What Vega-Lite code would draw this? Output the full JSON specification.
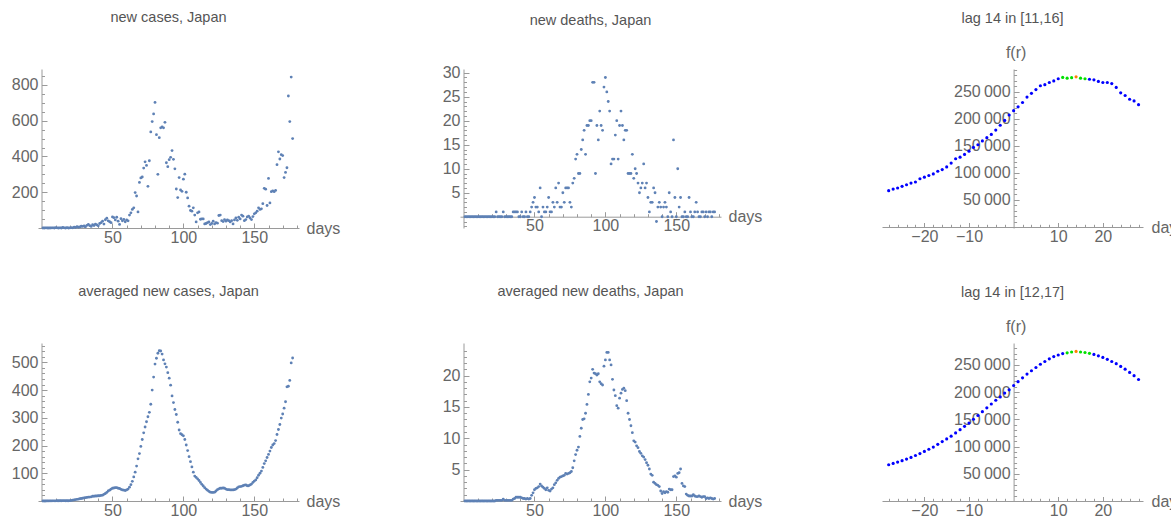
{
"$schema": "https://vega.github.io/schema/vega-lite/v6.json",
"background": "white",
"padding": {"left": 11, "top": 9, "right": 0, "bottom": 0},
"config": {
  "view": {"stroke": null},
  "font": "Liberation Sans",
  "axis": {"grid": false, "domainColor": "#9a9a9a", "tickColor": "#9a9a9a", "labelColor": "#666666", "labelFontSize": 16, "labelFont": "Liberation Sans", "titleFont": "Liberation Sans", "titleFontSize": 16, "titleFontWeight": "normal", "titleColor": "#666666", "labelFlush": false, "labelOverlap": false, "domainWidth": 1, "tickWidth": 1},
  "title": {"fontSize": 14.5, "fontWeight": "normal", "color": "#555555", "font": "Liberation Sans", "anchor": "middle", "baseline": "alphabetic", "offset": 44}
},
"datasets": {
"cases": [
{"day":1,"value":0},{"day":2,"value":0},{"day":3,"value":1},{"day":4,"value":0},{"day":5,"value":0},{"day":6,"value":0},{"day":7,"value":1},{"day":8,"value":1},{"day":9,"value":0},{"day":10,"value":2},{"day":11,"value":1},{"day":12,"value":0},{"day":13,"value":1},{"day":14,"value":0},{"day":15,"value":3},{"day":16,"value":1},{"day":17,"value":0},{"day":18,"value":2},{"day":19,"value":0},{"day":20,"value":1},{"day":21,"value":2},{"day":22,"value":1},
{"day":23,"value":5},{"day":24,"value":3},{"day":25,"value":8},{"day":26,"value":4},{"day":27,"value":6},{"day":28,"value":10},{"day":29,"value":9},{"day":30,"value":12},{"day":31,"value":7},{"day":32,"value":15},{"day":33,"value":20},{"day":34,"value":13},{"day":35,"value":9},{"day":36,"value":18},{"day":37,"value":14},{"day":38,"value":22},{"day":39,"value":17},{"day":40,"value":12},
{"day":41,"value":25},{"day":42,"value":30},{"day":43,"value":38},{"day":44,"value":22},{"day":45,"value":46},{"day":46,"value":55},{"day":47,"value":40},{"day":48,"value":35},{"day":49,"value":30},{"day":50,"value":62},{"day":51,"value":58},{"day":52,"value":45},{"day":53,"value":60},{"day":54,"value":38},{"day":55,"value":20},{"day":56,"value":52},{"day":57,"value":40},{"day":58,"value":48},{"day":59,"value":35},{"day":60,"value":45},{"day":61,"value":40},
{"day":62,"value":72},{"day":63,"value":85},{"day":64,"value":104},{"day":65,"value":113},{"day":66,"value":198},{"day":67,"value":179},{"day":68,"value":90},
{"day":69,"value":255},{"day":70,"value":280},{"day":71,"value":285},{"day":72,"value":335},{"day":73,"value":370},{"day":74,"value":350},{"day":75,"value":233},{"day":76,"value":376},{"day":77,"value":537},{"day":78,"value":595},{"day":79,"value":638},{"day":80,"value":702},{"day":81,"value":522},{"day":82,"value":300},{"day":83,"value":505},{"day":84,"value":560},{"day":85,"value":565},{"day":86,"value":560},{"day":87,"value":591},{"day":88,"value":365},{"day":89,"value":343},{"day":90,"value":382},{"day":91,"value":395},{"day":92,"value":433},{"day":93,"value":384},{"day":94,"value":331},{"day":95,"value":218},{"day":96,"value":170},{"day":97,"value":282},{"day":98,"value":213},{"day":99,"value":205},{"day":100,"value":273},{"day":101,"value":301},{"day":102,"value":200},{"day":103,"value":168},{"day":104,"value":122},
{"day":105,"value":98},{"day":106,"value":94},{"day":107,"value":113},{"day":108,"value":72},{"day":109,"value":34},{"day":110,"value":85},{"day":111,"value":90},{"day":112,"value":49},{"day":113,"value":51},{"day":114,"value":51},{"day":115,"value":23},{"day":116,"value":25},{"day":117,"value":30},{"day":118,"value":34},{"day":119,"value":19},{"day":120,"value":25},{"day":121,"value":38},{"day":122,"value":23},{"day":123,"value":30},{"day":124,"value":27},{"day":125,"value":70},{"day":126,"value":72},{"day":127,"value":41},{"day":128,"value":36},{"day":129,"value":47},{"day":130,"value":38},{"day":131,"value":45},{"day":132,"value":41},{"day":133,"value":34},{"day":134,"value":41},{"day":135,"value":23},{"day":136,"value":45},{"day":137,"value":56},{"day":138,"value":43},{"day":139,"value":60},{"day":140,"value":51},{"day":141,"value":72},{"day":142,"value":66},{"day":143,"value":41},{"day":144,"value":47},{"day":145,"value":62},{"day":146,"value":66},{"day":147,"value":56},{"day":148,"value":47},{"day":149,"value":64},{"day":150,"value":79},{"day":151,"value":85},{"day":152,"value":94},{"day":153,"value":113},{"day":154,"value":104},{"day":155,"value":107},{"day":156,"value":136},
{"day":157,"value":222},{"day":158,"value":217},{"day":159,"value":126},{"day":160,"value":277},{"day":161,"value":140},{"day":162,"value":203},{"day":163,"value":208},{"day":164,"value":203},{"day":165,"value":210},{"day":166,"value":354},{"day":167,"value":426},{"day":168,"value":386},{"day":169,"value":410},{"day":170,"value":405},{"day":171,"value":282},{"day":172,"value":311},{"day":173,"value":337},{"day":174,"value":738},{"day":175,"value":595},{"day":176,"value":844},{"day":177,"value":500}
],
"deaths": [
{"day":1,"value":0},{"day":2,"value":0},{"day":3,"value":0},{"day":4,"value":0},{"day":5,"value":0},{"day":6,"value":0},{"day":7,"value":0},{"day":8,"value":0},{"day":9,"value":0},{"day":10,"value":0},{"day":11,"value":0},{"day":12,"value":0},{"day":13,"value":0},{"day":14,"value":0},{"day":15,"value":0},{"day":16,"value":0},{"day":17,"value":0},{"day":18,"value":0},{"day":19,"value":0},{"day":20,"value":0},{"day":21,"value":0},
{"day":22,"value":0},{"day":23,"value":1},{"day":24,"value":0},{"day":25,"value":0},{"day":26,"value":0},{"day":27,"value":0},{"day":28,"value":1},{"day":29,"value":0},{"day":30,"value":0},{"day":31,"value":0},{"day":32,"value":0},{"day":33,"value":0},{"day":34,"value":0},{"day":35,"value":1},{"day":36,"value":1},{"day":37,"value":1},{"day":38,"value":1},{"day":39,"value":0},{"day":40,"value":0},{"day":41,"value":1},{"day":42,"value":0},{"day":43,"value":0},{"day":44,"value":1},{"day":45,"value":0},{"day":46,"value":0},{"day":47,"value":1},
{"day":48,"value":2},{"day":49,"value":3},{"day":50,"value":4},{"day":51,"value":2},{"day":52,"value":2},{"day":53,"value":1},{"day":54,"value":6},{"day":55,"value":0},{"day":56,"value":2},{"day":57,"value":1},{"day":58,"value":1},{"day":59,"value":2},{"day":60,"value":4},{"day":61,"value":1},{"day":62,"value":1},{"day":63,"value":3},{"day":64,"value":2},{"day":65,"value":6},{"day":66,"value":3},{"day":67,"value":7},{"day":68,"value":2},{"day":69,"value":2},{"day":70,"value":5},{"day":71,"value":3},{"day":72,"value":6},{"day":73,"value":6},{"day":74,"value":6},{"day":75,"value":3},{"day":76,"value":2},{"day":77,"value":7},{"day":78,"value":8},{"day":79,"value":12},{"day":80,"value":13},{"day":81,"value":9},{"day":82,"value":9},{"day":83,"value":14},{"day":84,"value":16},{"day":85,"value":18},{"day":86,"value":13},{"day":87,"value":19},{"day":88,"value":19},{"day":89,"value":20},{"day":90,"value":20},{"day":91,"value":28},{"day":92,"value":28},{"day":93,"value":9},{"day":94,"value":19},{"day":95,"value":16},{"day":96,"value":22},{"day":97,"value":19},{"day":98,"value":18},{"day":99,"value":27},{"day":100,"value":29},{"day":101,"value":26},{"day":102,"value":24},{"day":103,"value":22},{"day":104,"value":11},{"day":105,"value":12},{"day":106,"value":12},{"day":107,"value":17},{"day":108,"value":20},{"day":109,"value":12},{"day":110,"value":19},{"day":111,"value":22},{"day":112,"value":19},{"day":113,"value":16},{"day":114,"value":18},{"day":115,"value":18},{"day":116,"value":9},{"day":117,"value":9},{"day":118,"value":9},{"day":119,"value":13},{"day":120,"value":8},{"day":121,"value":10},{"day":122,"value":9},{"day":123,"value":7},{"day":124,"value":5},{"day":125,"value":6},{"day":126,"value":7},{"day":127,"value":11},{"day":128,"value":6},{"day":129,"value":7},{"day":130,"value":4},{"day":131,"value":1},{"day":132,"value":3},{"day":133,"value":3},{"day":134,"value":6},{"day":135,"value":5},{"day":136,"value":-1},{"day":137,"value":2},{"day":138,"value":3},{"day":139,"value":2},{"day":140,"value":0},{"day":141,"value":2},{"day":142,"value":3},{"day":143,"value":2},{"day":144,"value":0},{"day":145,"value":5},{"day":146,"value":1},{"day":147,"value":0},{"day":148,"value":16},{"day":149,"value":4},{"day":150,"value":0},{"day":151,"value":10},{"day":152,"value":2},{"day":153,"value":4},{"day":154,"value":0},{"day":155,"value":0},{"day":156,"value":1},{"day":157,"value":0},{"day":158,"value":0},{"day":159,"value":4},{"day":160,"value":1},{"day":161,"value":0},{"day":162,"value":0},{"day":163,"value":1},{"day":164,"value":3},{"day":165,"value":1},{"day":166,"value":0},{"day":167,"value":0},{"day":168,"value":1},{"day":169,"value":1},{"day":170,"value":0},{"day":171,"value":1},{"day":172,"value":0},{"day":173,"value":1},{"day":174,"value":1},{"day":175,"value":0},{"day":176,"value":1},{"day":177,"value":1}
],
"avgCases": [
{"day":1,"value":0},{"day":2,"value":0},{"day":3,"value":0},{"day":4,"value":0.3},{"day":5,"value":0.3},{"day":6,"value":0.4},{"day":7,"value":0.5},{"day":8,"value":0.6},{"day":9,"value":0.6},{"day":10,"value":0.7},{"day":11,"value":0.8},{"day":12,"value":0.9},{"day":13,"value":1},{"day":14,"value":1},{"day":15,"value":1.1},{"day":16,"value":1.1},{"day":17,"value":1},{"day":18,"value":1},{"day":19,"value":0.9},{"day":20,"value":1.2},
{"day":21,"value":2},{"day":22,"value":3},{"day":23,"value":4},{"day":24,"value":5},{"day":25,"value":6},{"day":26,"value":7},{"day":27,"value":8},{"day":28,"value":9},{"day":29,"value":10},{"day":30,"value":11},{"day":31,"value":12},
{"day":32,"value":13},{"day":33,"value":14},{"day":34,"value":14},{"day":35,"value":15},{"day":36,"value":17},{"day":37,"value":17},{"day":38,"value":18},{"day":39,"value":18},{"day":40,"value":19},{"day":41,"value":19},
{"day":42,"value":20},{"day":43,"value":21},{"day":44,"value":24},{"day":45,"value":27},{"day":46,"value":31},{"day":47,"value":36},
{"day":48,"value":39},{"day":49,"value":43},{"day":50,"value":46},{"day":51,"value":47},{"day":52,"value":48},{"day":53,"value":48},{"day":54,"value":46},{"day":55,"value":45},{"day":56,"value":42},{"day":57,"value":40},
{"day":58,"value":39},{"day":59,"value":38},{"day":60,"value":40},{"day":61,"value":43},{"day":62,"value":50},{"day":63,"value":59},{"day":64,"value":71},{"day":65,"value":87},{"day":66,"value":104},{"day":67,"value":126},{"day":68,"value":152},{"day":69,"value":171},{"day":70,"value":197},{"day":71,"value":222},{"day":72,"value":246},{"day":73,"value":267},{"day":74,"value":286},{"day":75,"value":304},{"day":76,"value":320},
{"day":77,"value":349},{"day":78,"value":400},{"day":79,"value":447},{"day":80,"value":494},{"day":81,"value":515},{"day":82,"value":533},{"day":83,"value":542},{"day":84,"value":541},{"day":85,"value":530},{"day":86,"value":509},{"day":87,"value":495},{"day":88,"value":483},{"day":89,"value":463},{"day":90,"value":443},{"day":91,"value":418},{"day":92,"value":379},{"day":93,"value":355},{"day":94,"value":330},{"day":95,"value":312},{"day":96,"value":284},{"day":97,"value":256},{"day":98,"value":243},{"day":99,"value":239},{"day":100,"value":235},{"day":101,"value":222},{"day":102,"value":202},{"day":103,"value":182},{"day":104,"value":160},{"day":105,"value":142},{"day":106,"value":123},{"day":107,"value":104},{"day":108,"value":90},{"day":109,"value":85},{"day":110,"value":80},{"day":111,"value":74},{"day":112,"value":67},{"day":113,"value":60},{"day":114,"value":54},{"day":115,"value":48},{"day":116,"value":43},{"day":117,"value":39},{"day":118,"value":35},{"day":119,"value":32},{"day":120,"value":31},{"day":121,"value":31},{"day":122,"value":32},{"day":123,"value":36},{"day":124,"value":41},{"day":125,"value":44},{"day":126,"value":46},{"day":127,"value":46},{"day":128,"value":47},{"day":129,"value":46},{"day":130,"value":43},{"day":131,"value":41},{"day":132,"value":41},{"day":133,"value":40},{"day":134,"value":40},{"day":135,"value":40},{"day":136,"value":41},{"day":137,"value":43},{"day":138,"value":47},{"day":139,"value":51},{"day":140,"value":52},{"day":141,"value":53},{"day":142,"value":55},{"day":143,"value":57},{"day":144,"value":58},{"day":145,"value":55},{"day":146,"value":55},{"day":147,"value":58},{"day":148,"value":61},{"day":149,"value":67},{"day":150,"value":72},{"day":151,"value":76},{"day":152,"value":84},{"day":153,"value":93},{"day":154,"value":100},{"day":155,"value":108},{"day":156,"value":121},{"day":157,"value":135},{"day":158,"value":145},{"day":159,"value":157},{"day":160,"value":168},{"day":161,"value":180},{"day":162,"value":193},{"day":163,"value":202},{"day":164,"value":207},{"day":165,"value":218},{"day":166,"value":240},{"day":167,"value":258},{"day":168,"value":276},{"day":169,"value":299},{"day":170,"value":314},{"day":171,"value":335},{"day":172,"value":358},{"day":173,"value":412},{"day":174,"value":414},{"day":175,"value":435},{"day":176,"value":498},{"day":177,"value":516}
],
"avgDeaths": [
{"day":1,"value":0},{"day":2,"value":0},{"day":3,"value":0},{"day":4,"value":0},{"day":5,"value":0},{"day":6,"value":0},{"day":7,"value":0},{"day":8,"value":0},{"day":9,"value":0},{"day":10,"value":0},{"day":11,"value":0},{"day":12,"value":0},{"day":13,"value":0},{"day":14,"value":0},{"day":15,"value":0},{"day":16,"value":0},{"day":17,"value":0},{"day":18,"value":0},{"day":19,"value":0},{"day":20,"value":0},{"day":21,"value":0},
{"day":22,"value":0},{"day":23,"value":0.1},{"day":24,"value":0.1},{"day":25,"value":0.1},{"day":26,"value":0.1},{"day":27,"value":0.1},{"day":28,"value":0.3},{"day":29,"value":0.1},{"day":30,"value":0.1},{"day":31,"value":0.1},{"day":32,"value":0.1},{"day":33,"value":0.1},{"day":34,"value":0.1},{"day":35,"value":0.3},{"day":36,"value":0.4},{"day":37,"value":0.6},
{"day":38,"value":0.6},{"day":39,"value":0.6},{"day":40,"value":0.6},{"day":41,"value":0.5},{"day":42,"value":0.4},{"day":43,"value":0.4},{"day":44,"value":0.3},{"day":45,"value":0.4},{"day":46,"value":0.3},{"day":47,"value":0.4},
{"day":48,"value":0.9},{"day":49,"value":1.3},{"day":50,"value":1.8},{"day":51,"value":2.0},{"day":52,"value":2.1},{"day":53,"value":2.3},{"day":54,"value":2.7},{"day":55,"value":2.4},{"day":56,"value":2.2},{"day":57,"value":2.0},{"day":58,"value":1.8},{"day":59,"value":2.1},{"day":60,"value":1.7},{"day":61,"value":1.6},{"day":62,"value":1.9},{"day":63,"value":2.1},{"day":64,"value":2.6},{"day":65,"value":2.9},{"day":66,"value":3.3},{"day":67,"value":3.6},{"day":68,"value":3.8},{"day":69,"value":3.9},{"day":70,"value":4.0},{"day":71,"value":4.1},{"day":72,"value":4.4},{"day":73,"value":4.3},{"day":74,"value":4.4},{"day":75,"value":4.5},{"day":76,"value":4.7},{"day":77,"value":5.3},{"day":78,"value":6.4},{"day":79,"value":7.4},{"day":80,"value":8.1},{"day":81,"value":8.6},{"day":82,"value":10.3},{"day":83,"value":11.6},{"day":84,"value":13},{"day":85,"value":13.1},{"day":86,"value":14},{"day":87,"value":15.4},{"day":88,"value":17},{"day":89,"value":19},{"day":90,"value":19.6},{"day":91,"value":21},{"day":92,"value":20.4},{"day":93,"value":20.3},{"day":94,"value":20.1},{"day":95,"value":20.3},{"day":96,"value":19},{"day":97,"value":18.7},{"day":98,"value":18.5},{"day":99,"value":21.5},{"day":100,"value":22.5},{"day":101,"value":23.7},{"day":102,"value":23.7},{"day":103,"value":22.5},{"day":104,"value":21.7},{"day":105,"value":19.4},{"day":106,"value":17.7},{"day":107,"value":16.8},{"day":108,"value":15.2},{"day":109,"value":14.8},{"day":110,"value":16.4},{"day":111,"value":17.2},{"day":112,"value":17.8},{"day":113,"value":18},{"day":114,"value":17.6},{"day":115,"value":16},{"day":116,"value":14},{"day":117,"value":13},{"day":118,"value":12},{"day":119,"value":10.9},{"day":120,"value":9.6},{"day":121,"value":9.4},{"day":122,"value":8.8},{"day":123,"value":8.5},{"day":124,"value":7.9},{"day":125,"value":7.6},{"day":126,"value":7.2},{"day":127,"value":7.0},{"day":128,"value":6.6},{"day":129,"value":6.1},{"day":130,"value":5.7},{"day":131,"value":5.1},{"day":132,"value":4.3},{"day":133,"value":4.1},{"day":134,"value":3.0},{"day":135,"value":2.8},{"day":136,"value":2.6},{"day":137,"value":2.5},{"day":138,"value":2.3},{"day":139,"value":1.6},{"day":140,"value":1.2},{"day":141,"value":1.5},{"day":142,"value":1.3},{"day":143,"value":1.5},{"day":144,"value":1.4},{"day":145,"value":1.9},{"day":146,"value":1.8},{"day":147,"value":1.8},{"day":148,"value":3.9},{"day":149,"value":4.0},{"day":150,"value":3.8},{"day":151,"value":4.4},{"day":152,"value":4.5},{"day":153,"value":5.1},{"day":154,"value":2.8},{"day":155,"value":2.4},{"day":156,"value":2.3},{"day":157,"value":1.1},{"day":158,"value":0.9},{"day":159,"value":0.8},{"day":160,"value":0.8},{"day":161,"value":0.8},{"day":162,"value":1.0},{"day":163,"value":0.8},{"day":164,"value":0.7},{"day":165,"value":0.7},{"day":166,"value":0.8},{"day":167,"value":0.7},{"day":168,"value":0.6},{"day":169,"value":0.7},{"day":170,"value":0.7},{"day":171,"value":0.4},{"day":172,"value":0.5},{"day":173,"value":0.4},{"day":174,"value":0.5},{"day":175,"value":0.4},{"day":176,"value":0.3},{"day":177,"value":0.4}
],
"lagA": [
{"r":-28,"f":67000,"sel":"out"},{"r":-27,"f":70000,"sel":"out"},{"r":-26,"f":72000,"sel":"out"},{"r":-25,"f":75000,"sel":"out"},{"r":-24,"f":78000,"sel":"out"},{"r":-23,"f":81000,"sel":"out"},{"r":-22,"f":83000,"sel":"out"},{"r":-21,"f":89000,"sel":"out"},{"r":-20,"f":92000,"sel":"out"},{"r":-19,"f":95000,"sel":"out"},{"r":-18,"f":98000,"sel":"out"},{"r":-17,"f":103000,"sel":"out"},{"r":-16,"f":106000,"sel":"out"},{"r":-15,"f":111000,"sel":"out"},{"r":-14,"f":118000,"sel":"out"},{"r":-13,"f":126000,"sel":"out"},{"r":-12,"f":129000,"sel":"out"},{"r":-11,"f":134000,"sel":"out"},{"r":-10,"f":140000,"sel":"out"},{"r":-9,"f":147000,"sel":"out"},{"r":-8,"f":152000,"sel":"out"},{"r":-7,"f":159000,"sel":"out"},{"r":-6,"f":165000,"sel":"out"},{"r":-5,"f":171000,"sel":"out"},{"r":-4,"f":179000,"sel":"out"},{"r":-3,"f":188000,"sel":"out"},{"r":-2,"f":197000,"sel":"out"},{"r":-1,"f":207000,"sel":"out"},{"r":0,"f":215000,"sel":"out"},{"r":1,"f":222000,"sel":"out"},{"r":2,"f":230000,"sel":"out"},{"r":3,"f":240000,"sel":"out"},{"r":4,"f":247000,"sel":"out"},{"r":5,"f":254000,"sel":"out"},{"r":6,"f":261000,"sel":"out"},{"r":7,"f":263000,"sel":"out"},{"r":8,"f":267000,"sel":"out"},{"r":9,"f":270000,"sel":"out"},{"r":10,"f":274000,"sel":"out"},{"r":11,"f":276500,"sel":"in"},{"r":12,"f":275000,"sel":"in"},{"r":13,"f":276000,"sel":"in"},{"r":14,"f":277500,"sel":"best"},{"r":15,"f":275000,"sel":"in"},{"r":16,"f":274000,"sel":"in"},{"r":17,"f":273000,"sel":"out"},{"r":18,"f":272000,"sel":"out"},{"r":19,"f":269000,"sel":"out"},{"r":20,"f":267000,"sel":"out"},{"r":21,"f":267000,"sel":"out"},{"r":22,"f":265000,"sel":"out"},{"r":23,"f":258000,"sel":"out"},{"r":24,"f":248000,"sel":"out"},{"r":25,"f":243000,"sel":"out"},{"r":26,"f":236000,"sel":"out"},{"r":27,"f":233000,"sel":"out"},{"r":28,"f":226000,"sel":"out"}
],
"lagB": [
{"r":-28,"f":66500,"sel":"out"},{"r":-27,"f":69000,"sel":"out"},{"r":-26,"f":71500,"sel":"out"},{"r":-25,"f":74000,"sel":"out"},{"r":-24,"f":77000,"sel":"out"},{"r":-23,"f":80000,"sel":"out"},{"r":-22,"f":83500,"sel":"out"},{"r":-21,"f":87000,"sel":"out"},{"r":-20,"f":91000,"sel":"out"},{"r":-19,"f":95000,"sel":"out"},{"r":-18,"f":99000,"sel":"out"},{"r":-17,"f":104000,"sel":"out"},{"r":-16,"f":109000,"sel":"out"},{"r":-15,"f":114000,"sel":"out"},{"r":-14,"f":119000,"sel":"out"},{"r":-13,"f":125000,"sel":"out"},{"r":-12,"f":131000,"sel":"out"},{"r":-11,"f":137000,"sel":"out"},{"r":-10,"f":143000,"sel":"out"},{"r":-9,"f":150000,"sel":"out"},{"r":-8,"f":157000,"sel":"out"},{"r":-7,"f":164000,"sel":"out"},{"r":-6,"f":171000,"sel":"out"},{"r":-5,"f":178000,"sel":"out"},{"r":-4,"f":185000,"sel":"out"},{"r":-3,"f":191000,"sel":"out"},{"r":-2,"f":198000,"sel":"out"},{"r":-1,"f":204000,"sel":"out"},{"r":0,"f":212000,"sel":"out"},{"r":1,"f":219000,"sel":"out"},{"r":2,"f":226000,"sel":"out"},{"r":3,"f":233000,"sel":"out"},{"r":4,"f":239000,"sel":"out"},{"r":5,"f":245000,"sel":"out"},{"r":6,"f":251000,"sel":"out"},{"r":7,"f":256000,"sel":"out"},{"r":8,"f":261000,"sel":"out"},{"r":9,"f":265000,"sel":"out"},{"r":10,"f":268000,"sel":"out"},{"r":11,"f":270500,"sel":"out"},{"r":12,"f":272000,"sel":"in"},{"r":13,"f":273500,"sel":"in"},{"r":14,"f":274500,"sel":"best"},{"r":15,"f":273500,"sel":"in"},{"r":16,"f":272500,"sel":"in"},{"r":17,"f":271000,"sel":"in"},{"r":18,"f":269000,"sel":"out"},{"r":19,"f":266500,"sel":"out"},{"r":20,"f":263500,"sel":"out"},{"r":21,"f":260000,"sel":"out"},{"r":22,"f":256000,"sel":"out"},{"r":23,"f":252000,"sel":"out"},{"r":24,"f":247000,"sel":"out"},{"r":25,"f":242000,"sel":"out"},{"r":26,"f":236000,"sel":"out"},{"r":27,"f":230000,"sel":"out"},{"r":28,"f":223000,"sel":"out"}
]
},
"columns": 3,
"spacing": {"row": 115, "column": 161},
"bounds": "flush",
"concat": [
{
"title": {"text": "new cases, Japan", "offset": 44},
"width": 261, "height": 159,
"data": {"name": "cases"},
"layer": [
{"mark": {"type": "circle", "size": 8, "color": "#5E81B5", "opacity": 1},
 "encoding": {
  "x": {"field": "day", "type": "quantitative", "scale": {"domain": [-2.5, 181.5], "nice": false, "zero": false},
        "axis": {"orient": "bottom", "values": [50, 100, 150], "tickSize": -5, "labelPadding": 6, "title": "days", "titleAngle": 0, "titleX": 268, "titleY": 0, "titleAlign": "left", "titleBaseline": "middle", "offset": 0}},
  "y": {"field": "value", "type": "quantitative", "scale": {"domain": [0, 889], "nice": false, "zero": false},
        "axis": {"orient": "left", "values": [200, 400, 600, 800], "tickSize": -5.5, "labelPadding": 9, "title": null, "offset": -3.5}}
 }},
{"mark": {"type": "circle", "size": 8, "opacity": 0},
 "encoding": {
  "x": {"field": "day", "type": "quantitative", "scale": {"domain": [-2.5, 181.5], "nice": false, "zero": false},
        "axis": {"orient": "bottom", "values": [10,20,30,40,60,70,80,90,110,120,130,140,160,170,180], "tickSize": -3, "labels": false, "domain": false, "title": null, "offset": 0}},
  "y": {"field": "value", "type": "quantitative", "scale": {"domain": [0, 889], "nice": false, "zero": false},
        "axis": {"orient": "left", "values": [50,100,150,250,300,350,450,500,550,650,700,750,850], "tickSize": -3, "labels": false, "domain": false, "title": null, "offset": -3.5}}
 }}
],
"resolve": {"axis": {"x": "independent", "y": "independent"}}
},
{
"title": {"text": "new deaths, Japan", "offset": 36},
"width": 261, "height": 159,
"data": {"name": "deaths"},
"layer": [
{"mark": {"type": "circle", "size": 8, "color": "#5E81B5", "opacity": 1},
 "encoding": {
  "x": {"field": "day", "type": "quantitative", "scale": {"domain": [-2.5, 181.5], "nice": false, "zero": false},
        "axis": {"orient": "bottom", "values": [50, 100, 150], "tickSize": -5, "labelPadding": 6, "title": "days", "titleAngle": 0, "titleX": 268, "titleY": 0, "titleAlign": "left", "titleBaseline": "middle", "offset": -11.3}},
  "y": {"field": "value", "type": "quantitative", "scale": {"domain": [-2.35, 30.77], "nice": false, "zero": false},
        "axis": {"orient": "left", "values": [5, 10, 15, 20, 25, 30], "tickSize": -5.5, "labelPadding": 9, "title": null, "offset": -3.5}}
 }},
{"mark": {"type": "circle", "size": 8, "opacity": 0},
 "encoding": {
  "x": {"field": "day", "type": "quantitative", "scale": {"domain": [-2.5, 181.5], "nice": false, "zero": false},
        "axis": {"orient": "bottom", "values": [10,20,30,40,60,70,80,90,110,120,130,140,160,170,180], "tickSize": -3, "labels": false, "domain": false, "title": null, "offset": -11.3}},
  "y": {"field": "value", "type": "quantitative", "scale": {"domain": [-2.35, 30.77], "nice": false, "zero": false},
        "axis": {"orient": "left", "values": [-2,-1,1,2,3,4,6,7,8,9,11,12,13,14,16,17,18,19,21,22,23,24,26,27,28,29], "tickSize": -3, "labels": false, "domain": false, "title": null, "offset": -3.5}}
 }}
],
"resolve": {"axis": {"x": "independent", "y": "independent"}}
},
{
"title": {"text": "lag 14 in [11,16]", "offset": 18},
"width": 261, "height": 159,
"data": {"name": "lagA"},
"layer": [
{"mark": {"type": "circle", "size": 10, "opacity": 1},
 "encoding": {
  "x": {"field": "r", "type": "quantitative", "scale": {"domain": [-29.5, 29], "nice": false, "zero": false},
        "axis": {"orient": "bottom", "values": [-20, -10, 10, 20], "tickSize": -4.5, "labelPadding": 5.5, "title": "days", "titleAngle": 0, "titleX": 269, "titleY": 0, "titleAlign": "left", "titleBaseline": "middle", "offset": -1}},
  "y": {"field": "f", "type": "quantitative", "scale": {"domain": [-2000, 292000], "nice": false, "zero": false},
        "axis": {"orient": "left", "values": [50000, 100000, 150000, 200000, 250000], "labelExpr": "replace(format(datum.value, ','), ',', '\u2009')", "tickSize": -5.5, "labelPadding": 9, "title": "f(r)", "titleAngle": 0, "titleX": 2, "titleY": -12, "titleAlign": "center", "titleBaseline": "alphabetic", "offset": -131.6}},
  "color": {"field": "sel", "type": "nominal", "scale": {"domain": ["out", "in", "best"], "range": ["#0000ff", "#00e000", "#ff8000"]}, "legend": null}
 }},
{"mark": {"type": "circle", "size": 10, "opacity": 0},
 "encoding": {
  "x": {"field": "r", "type": "quantitative", "scale": {"domain": [-29.5, 29], "nice": false, "zero": false},
        "axis": {"orient": "bottom", "values": [-28,-26,-24,-22,-18,-16,-14,-12,-8,-6,-4,-2,2,4,6,8,12,14,16,18,22,24,26,28], "tickSize": -2.7, "labels": false, "domain": false, "title": null, "offset": -1}},
  "y": {"field": "f", "type": "quantitative", "scale": {"domain": [-2000, 292000], "nice": false, "zero": false},
        "axis": {"orient": "left", "values": [10000,20000,30000,40000,60000,70000,80000,90000,110000,120000,130000,140000,160000,170000,180000,190000,210000,220000,230000,240000,260000,270000,280000,290000], "tickSize": -3, "labels": false, "domain": false, "title": null, "offset": -131.6}}
 }}
],
"resolve": {"axis": {"x": "independent", "y": "independent"}}
},
{
"title": {"text": "averaged new cases, Japan", "offset": 44},
"width": 261, "height": 158,
"data": {"name": "avgCases"},
"layer": [
{"mark": {"type": "circle", "size": 8, "color": "#5E81B5", "opacity": 1},
 "encoding": {
  "x": {"field": "day", "type": "quantitative", "scale": {"domain": [-2.5, 181.5], "nice": false, "zero": false},
        "axis": {"orient": "bottom", "values": [50, 100, 150], "tickSize": -5, "labelPadding": 6, "title": "days", "titleAngle": 0, "titleX": 268, "titleY": 0, "titleAlign": "left", "titleBaseline": "middle", "offset": 0}},
  "y": {"field": "value", "type": "quantitative", "scale": {"domain": [0, 570], "nice": false, "zero": false},
        "axis": {"orient": "left", "values": [100, 200, 300, 400, 500], "tickSize": -5.5, "labelPadding": 9, "title": null, "offset": -3.5}}
 }},
{"mark": {"type": "circle", "size": 8, "opacity": 0},
 "encoding": {
  "x": {"field": "day", "type": "quantitative", "scale": {"domain": [-2.5, 181.5], "nice": false, "zero": false},
        "axis": {"orient": "bottom", "values": [10,20,30,40,60,70,80,90,110,120,130,140,160,170,180], "tickSize": -3, "labels": false, "domain": false, "title": null, "offset": 0}},
  "y": {"field": "value", "type": "quantitative", "scale": {"domain": [0, 570], "nice": false, "zero": false},
        "axis": {"orient": "left", "values": [20,40,60,80,120,140,160,180,220,240,260,280,320,340,360,380,420,440,460,480,520,540,560], "tickSize": -3, "labels": false, "domain": false, "title": null, "offset": -3.5}}
 }}
],
"resolve": {"axis": {"x": "independent", "y": "independent"}}
},
{
"title": {"text": "averaged new deaths, Japan", "offset": 44},
"width": 261, "height": 158,
"data": {"name": "avgDeaths"},
"layer": [
{"mark": {"type": "circle", "size": 8, "color": "#5E81B5", "opacity": 1},
 "encoding": {
  "x": {"field": "day", "type": "quantitative", "scale": {"domain": [-2.5, 181.5], "nice": false, "zero": false},
        "axis": {"orient": "bottom", "values": [50, 100, 150], "tickSize": -5, "labelPadding": 6, "title": "days", "titleAngle": 0, "titleX": 268, "titleY": 0, "titleAlign": "left", "titleBaseline": "middle", "offset": 0}},
  "y": {"field": "value", "type": "quantitative", "scale": {"domain": [0, 25.2], "nice": false, "zero": false},
        "axis": {"orient": "left", "values": [5, 10, 15, 20], "tickSize": -5.5, "labelPadding": 9, "title": null, "offset": -3.5}}
 }},
{"mark": {"type": "circle", "size": 8, "opacity": 0},
 "encoding": {
  "x": {"field": "day", "type": "quantitative", "scale": {"domain": [-2.5, 181.5], "nice": false, "zero": false},
        "axis": {"orient": "bottom", "values": [10,20,30,40,60,70,80,90,110,120,130,140,160,170,180], "tickSize": -3, "labels": false, "domain": false, "title": null, "offset": 0}},
  "y": {"field": "value", "type": "quantitative", "scale": {"domain": [0, 25.2], "nice": false, "zero": false},
        "axis": {"orient": "left", "values": [1,2,3,4,6,7,8,9,11,12,13,14,16,17,18,19,21,22,23,24], "tickSize": -3, "labels": false, "domain": false, "title": null, "offset": -3.5}}
 }}
],
"resolve": {"axis": {"x": "independent", "y": "independent"}}
},
{
"title": {"text": "lag 14 in [12,17]", "offset": 18},
"width": 261, "height": 158,
"data": {"name": "lagB"},
"layer": [
{"mark": {"type": "circle", "size": 10, "opacity": 1},
 "encoding": {
  "x": {"field": "r", "type": "quantitative", "scale": {"domain": [-29.5, 29], "nice": false, "zero": false},
        "axis": {"orient": "bottom", "values": [-20, -10, 10, 20], "tickSize": -4.5, "labelPadding": 5.5, "title": "days", "titleAngle": 0, "titleX": 269, "titleY": 0, "titleAlign": "left", "titleBaseline": "middle", "offset": 0}},
  "y": {"field": "f", "type": "quantitative", "scale": {"domain": [0, 290000], "nice": false, "zero": false},
        "axis": {"orient": "left", "values": [50000, 100000, 150000, 200000, 250000], "labelExpr": "replace(format(datum.value, ','), ',', '\u2009')", "tickSize": -5.5, "labelPadding": 9, "title": "f(r)", "titleAngle": 0, "titleX": 2, "titleY": -12, "titleAlign": "center", "titleBaseline": "alphabetic", "offset": -131.6}},
  "color": {"field": "sel", "type": "nominal", "scale": {"domain": ["out", "in", "best"], "range": ["#0000ff", "#00e000", "#ff8000"]}, "legend": null}
 }},
{"mark": {"type": "circle", "size": 10, "opacity": 0},
 "encoding": {
  "x": {"field": "r", "type": "quantitative", "scale": {"domain": [-29.5, 29], "nice": false, "zero": false},
        "axis": {"orient": "bottom", "values": [-28,-26,-24,-22,-18,-16,-14,-12,-8,-6,-4,-2,2,4,6,8,12,14,16,18,22,24,26,28], "tickSize": -2.7, "labels": false, "domain": false, "title": null, "offset": 0}},
  "y": {"field": "f", "type": "quantitative", "scale": {"domain": [0, 290000], "nice": false, "zero": false},
        "axis": {"orient": "left", "values": [10000,20000,30000,40000,60000,70000,80000,90000,110000,120000,130000,140000,160000,170000,180000,190000,210000,220000,230000,240000,260000,270000,280000], "tickSize": -3, "labels": false, "domain": false, "title": null, "offset": -131.6}}
 }}
],
"resolve": {"axis": {"x": "independent", "y": "independent"}}
}
]
}
